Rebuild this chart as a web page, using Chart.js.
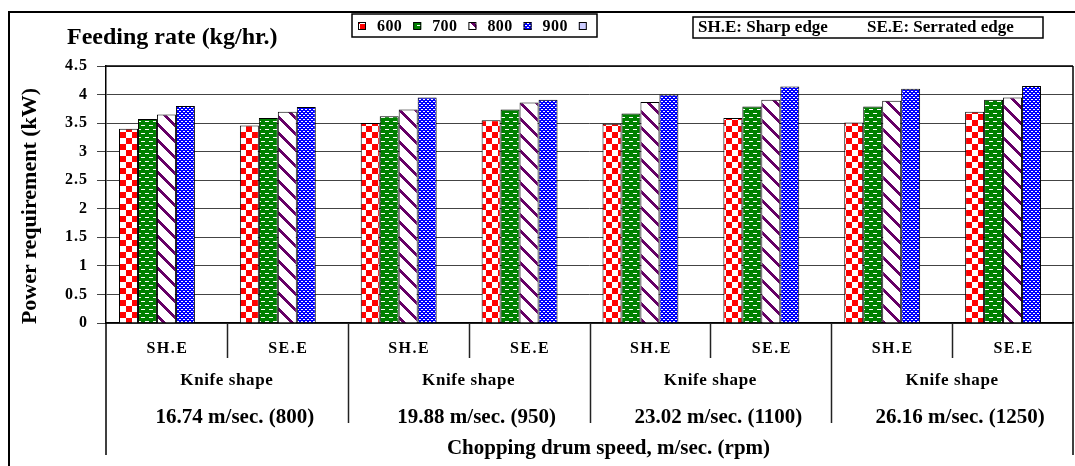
<!DOCTYPE html>
<html>
<head>
<meta charset="utf-8">
<script src="https://cdn.jsdelivr.net/npm/chart.js@4"></script>
<style>
  html, body { margin: 0; padding: 0; background: #fff; }
  #wrap { width: 1075px; height: 466px; }
</style>
</head>
<body>
<div id="wrap"><canvas id="chart" width="1075" height="466"></canvas></div>
<script>
// Knife shape per bar group, chopping drum speed per pair of groups
const categories = ['SH.E', 'SE.E', 'SH.E', 'SE.E', 'SH.E', 'SE.E', 'SH.E', 'SE.E'];
const knifeCaption = 'Knife shape';
const speedGroups = ['16.74 m/sec. (800)', '19.88 m/sec. (950)', '23.02 m/sec. (1100)', '26.16 m/sec. (1250)'];

// Feeding rate series (kg/hr.), power requirement in kW
const seriesNames = ['600', '700', '800', '900', ''];
const power600 = [3.40, 3.46, 3.50, 3.55, 3.49, 3.59, 3.51, 3.70];
const power700 = [3.57, 3.59, 3.62, 3.74, 3.67, 3.79, 3.79, 3.91];
const power800 = [3.65, 3.70, 3.74, 3.86, 3.87, 3.91, 3.89, 3.95];
const power900 = [3.80, 3.78, 3.95, 3.91, 4.00, 4.14, 4.10, 4.15];
const powerBlank = [null, null, null, null, null, null, null, null];

const yMin = 0, yMax = 4.5, yStep = 0.5;

const SERIF = "'Liberation Serif', 'Times New Roman', serif";

// ---- fill patterns -------------------------------------------------------
function tile(w, h, paint) {
  const c = document.createElement('canvas');
  c.width = w; c.height = h;
  const g = c.getContext('2d');
  for (let y = 0; y < h; y++) {
    for (let x = 0; x < w; x++) {
      g.fillStyle = paint(x, y);
      g.fillRect(x, y, 1, 1);
    }
  }
  return c;
}
const canvas = document.getElementById('chart');
const ctx = canvas.getContext('2d');

const patChecker = ctx.createPattern(tile(12, 12, (x, y) =>
  ((Math.floor(x / 6) + Math.floor(y / 6)) % 2 === 0) ? '#ff0000' : '#ffffff'), 'repeat');

const patDash = ctx.createPattern(tile(8, 8, (x, y) => {
  if (y === 1 && x >= 1 && x <= 4) return '#ffffff';
  if (y === 5 && (x >= 5 || x === 0)) return '#ffffff';
  return '#008000';
}), 'repeat');

const patStripe = ctx.createPattern(tile(16, 16, (x, y) =>
  (((x - y) % 16 + 16) % 16 < 4) ? '#660066' : '#ffffff'), 'repeat');

const patDots = ctx.createPattern(tile(4, 4, (x, y) => {
  if (y === 1 && (x === 1 || x === 2)) return '#ffffff';
  if (y === 3 && (x === 3 || x === 0)) return '#ffffff';
  return '#0000ff';
}), 'repeat');

const fills = [patChecker, patDash, patStripe, patDots, '#ccccff'];
const seriesData = [power600, power700, power800, power900, powerBlank];

// ---- frame, legend boxes and the grouped category labels -----------------
const framePlugin = {
  id: 'frameLabels',
  beforeDraw(chart) {
    const c = chart.ctx;
    c.save();
    c.fillStyle = '#ffffff';
    c.fillRect(0, 0, chart.width, chart.height);
    c.restore();
    c.letterSpacing = '1px';
  },
  afterDraw(chart) {
    const c = chart.ctx;
    const { left, right, top, bottom } = chart.chartArea;
    const xs = chart.scales.x;
    const n = categories.length;
    const line = (x1, y1, x2, y2) => { c.beginPath(); c.moveTo(x1, y1); c.lineTo(x2, y2); c.stroke(); };

    c.save();
    c.letterSpacing = '0px';

    // outer frame
    c.strokeStyle = '#000';
    c.lineWidth = 2;
    line(8, 12, chart.width, 12);
    line(9, 12, 9, chart.height);

    // plot frame top and right
    c.lineWidth = 1.5;
    line(left, top, right, top);
    line(right, top, right, 455);
    line(left, bottom, left, 455);

    // category separators below the axis
    const edge = i => (i === 0 ? left : i === n ? right
      : (xs.getPixelForValue(i - 1) + xs.getPixelForValue(i)) / 2);
    c.strokeStyle = '#222';
    for (let i = 1; i < n; i++) {
      const depth = (i % 2 === 0) ? 423 : 358;
      const px = Math.round(edge(i)) + 0.5;
      line(px, bottom, px, depth);
    }

    c.fillStyle = '#000';
    c.textAlign = 'center';
    c.textBaseline = 'middle';

    // knife shape labels
    c.font = 'bold 16px ' + SERIF;
    c.letterSpacing = '1.5px';
    categories.forEach((lab, i) => {
      c.fillText(lab, xs.getPixelForValue(i) + 1, 349);
    });

    // group captions and speeds
    for (let g = 0; g < speedGroups.length; g++) {
      const cx = (edge(2 * g) + edge(2 * g + 2)) / 2;
      c.font = 'bold 17px ' + SERIF;
      c.letterSpacing = '0.6px';
      c.fillText(knifeCaption, cx, 381);
      c.font = 'bold 21px ' + SERIF;
      c.letterSpacing = '0px';
      c.fillText(speedGroups[g], cx + 8, 418);
    }

    // x axis title
    c.font = 'bold 21px ' + SERIF;
    c.fillText('Chopping drum speed, m/sec. (rpm)', (left + right) / 2 + 19, 449);

    // y axis title
    c.save();
    c.translate(30, 206);
    c.rotate(-Math.PI / 2);
    c.font = 'bold 22px ' + SERIF;
    c.fillText('Power requirement (kW)', 0, 0);
    c.restore();

    // legend heading
    c.textAlign = 'left';
    c.textBaseline = 'alphabetic';
    c.font = 'bold 24px ' + SERIF;
    c.fillText('Feeding rate (kg/hr.)', 67, 44);

    // series legend box
    c.lineWidth = 1.5;
    c.strokeStyle = '#000';
    c.strokeRect(352, 14, 245, 23);
    c.textBaseline = 'middle';
    c.font = 'bold 16px ' + SERIF;
    c.letterSpacing = '0.4px';
    let lx = 358;
    chart.data.datasets.forEach((ds, i) => {
      c.fillStyle = ds.backgroundColor;
      c.fillRect(lx, 22, 8, 8);
      c.lineWidth = 1;
      c.strokeRect(lx + 0.5, 22.5, 7, 7);
      lx += 19;
      c.fillStyle = '#000';
      if (ds.label) {
        c.fillText(ds.label, lx, 26.5);
        lx += c.measureText(ds.label).width + 11;
      }
    });

    // knife shape key
    c.lineWidth = 1.5;
    c.strokeRect(693, 17, 350, 21);
    c.font = 'bold 17px ' + SERIF;
    c.letterSpacing = '0px';
    c.fillText('SH.E: Sharp edge', 698, 27.5);
    c.fillText('SE.E: Serrated edge', 867, 27.5);

    c.restore();
  }
};

new Chart(ctx, {
  type: 'bar',
  data: {
    labels: categories,
    datasets: seriesData.map((d, i) => ({
      label: seriesNames[i],
      data: d,
      backgroundColor: fills[i],
      borderColor: '#000',
      borderWidth: 1,
      categoryPercentage: 0.785,
      barPercentage: 1.0
    }))
  },
  options: {
    responsive: false,
    animation: false,
    devicePixelRatio: 1,
    layout: { padding: { top: 66, right: 2, bottom: 11, left: 0 } },
    plugins: { legend: { display: false }, tooltip: { enabled: false } },
    scales: {
      x: {
        type: 'category',
        grid: { display: false },
        border: { display: true, color: '#000', width: 1.5 },
        ticks: { display: false },
        afterFit: s => { s.height = 132; }
      },
      y: {
        min: yMin,
        max: yMax,
        ticks: {
          stepSize: yStep,
          color: '#000',
          padding: 9,
          font: { family: SERIF, size: 16, weight: 'bold' },
          callback: v => String(Math.round(v * 10) / 10)
        },
        grid: { color: '#444', lineWidth: 1, tickLength: 9 },
        border: { display: true, color: '#000', width: 1.5 },
        afterFit: s => { s.width = 106; }
      }
    }
  },
  plugins: [framePlugin]
});
</script>
</body>
</html>
